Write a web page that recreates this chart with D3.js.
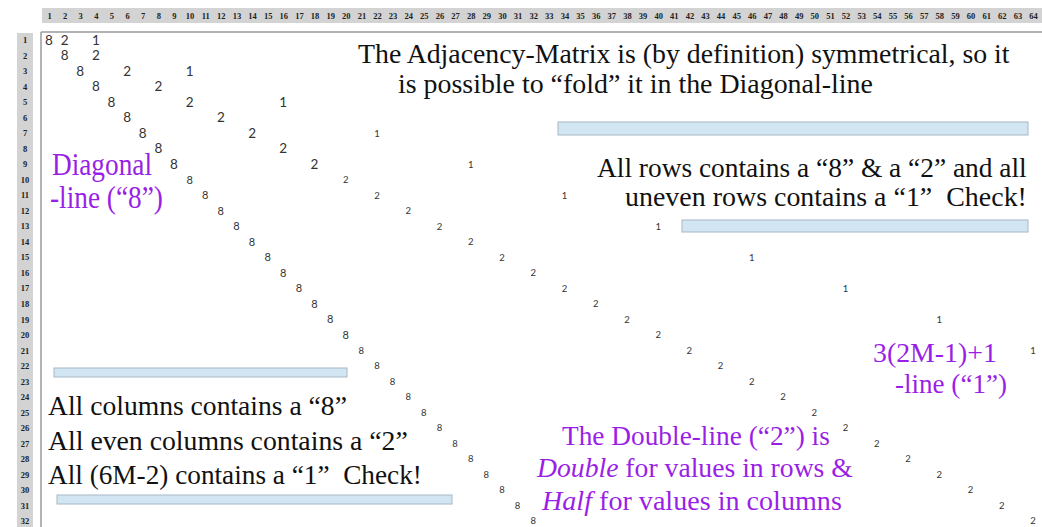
<!DOCTYPE html>
<html>
<head>
<meta charset="utf-8">
<script src="https://cdn.jsdelivr.net/npm/d3@7"></script>
<style>
  body { margin: 0; background: #fff; }
  svg { display: block; }
</style>
</head>
<body>
<div id="viz-container"></div>
<script>
// header labels
const colLabels = [1,2,3,4,5,6,7,8,9,10,11,12,13,14,15,16,17,18,19,20,21,22,23,24,25,26,27,28,29,30,31,32,
                   33,34,35,36,37,38,39,40,41,42,43,44,45,46,47,48,49,50,51,52,53,54,55,56,57,58,59,60,61,62,63,64];
const rowLabels = [1,2,3,4,5,6,7,8,9,10,11,12,13,14,15,16,17,18,19,20,21,22,23,24,25,26,27,28,29,30,31,32];

// for every row: the column that holds the "8", the "2" and the "1"
const eightCols = [1,2,3,4,5,6,7,8,9,10,11,12,13,14,15,16,17,18,19,20,21,22,23,24,25,26,27,28,29,30,31,32];
const twoCols   = [2,4,6,8,10,12,14,16,18,20,22,24,26,28,30,32,34,36,38,40,42,44,46,48,50,52,54,56,58,60,62,64];
const oneCols   = [4,null,10,null,16,null,22,null,28,null,34,null,40,null,46,null,52,null,58,null,64,
                   null,null,null,null,null,null,null,null,null,null,null];

const serif = "Liberation Serif";
const purple = "#9a1fe6";

let viz = d3.select("#viz-container")
              .append("svg")
                  .attr("id", "viz")
                  .attr("width", 1042)
                  .attr("height", 527)
                  .style("background-color", "white")
;

let x = d3.scaleLinear().domain([1, 64]).range([49, 1033]);
let y = d3.scaleLinear().domain([1, 32]).range([40, 521]);

// grey header bands
viz.append("rect").attr("x", 42).attr("y", 8).attr("width", 1000).attr("height", 15).attr("fill", "#d3d3d3");
viz.append("rect").attr("x", 17).attr("y", 33).attr("width", 16).attr("height", 494).attr("fill", "#d3d3d3");

// matrix border
viz.append("line").attr("x1", 41).attr("x2", 1042).attr("y1", 32).attr("y2", 32)
    .attr("stroke", "#9a9a9a").attr("stroke-width", 1.5);
viz.append("line").attr("x1", 41).attr("x2", 41).attr("y1", 32).attr("y2", 527)
    .attr("stroke", "#9a9a9a").attr("stroke-width", 1.5);

// column header axis
let topAxis = viz.append("g")
    .attr("transform", "translate(0,16)")
    .call(d3.axisTop(x).tickValues(colLabels).tickSize(0).tickPadding(0).tickFormat(d3.format("d")));
topAxis.select(".domain").remove();
topAxis.selectAll("text")
    .attr("dy", "0.35em")
    .style("font-family", serif).style("font-weight", "bold").style("font-size", "8.5px").attr("fill", "#222");

// row header axis
let leftAxis = viz.append("g")
    .attr("transform", "translate(25,0)")
    .call(d3.axisLeft(y).tickValues(rowLabels).tickSize(0).tickPadding(0).tickFormat(d3.format("d")));
leftAxis.select(".domain").remove();
leftAxis.selectAll("text")
    .attr("text-anchor", "middle")
    .style("font-family", serif).style("font-weight", "bold").style("font-size", "8.5px").attr("fill", "#222");

// cell values
let cells = [];
rowLabels.forEach(function(r, i){
    cells.push({row: r, col: eightCols[i], v: 8});
    cells.push({row: r, col: twoCols[i], v: 2});
    if (oneCols[i] != null) cells.push({row: r, col: oneCols[i], v: 1});
});

function cellSize(d){
    if (d.row <= 9 && d.col <= 20) return 13.5;
    if (d.v == 8 && d.row <= 20) return 11;
    return 9.5;
}

viz.selectAll(".cell").data(cells).enter().append("text")
    .attr("class", "cell")
    .attr("x", d => x(d.col))
    .attr("y", d => y(d.row))
    .attr("dy", "0.36em")
    .attr("text-anchor", "middle")
    .style("font-family", "Lato, 'Open Sans', sans-serif")
    .style("font-size", d => cellSize(d) + "px")
    .attr("fill", "#333")
    .text(d => d.v)
;

// light blue separator bars
function bar(x0, x1, y0, y1){
    viz.append("rect").attr("x", x0).attr("y", y0).attr("width", x1 - x0).attr("height", y1 - y0)
        .attr("fill", "#d2e5f2").attr("stroke", "#a8b8c6").attr("stroke-width", 1);
}
bar(558, 1028, 122, 135);
bar(682, 1028, 220, 232);
bar(54, 347, 368, 377);
bar(57, 452, 495, 504);

// annotation line, squeezed to the width it has in the picture
function note(parts, x0, x1, baseline, size, color){
    let t = viz.append("text")
        .style("font-family", serif)
        .style("font-size", size + "px")
        .style("white-space", "pre")
        .attr("fill", color);
    parts.forEach(function(p){
        t.append("tspan").style("font-style", p[1] ? "italic" : "normal").text(p[0]);
    });
    let w = t.node().getComputedTextLength();
    t.attr("transform", "translate(" + x0 + "," + baseline + ") scale(" + ((x1 - x0) / w) + ",1)");
}

note([["The Adjacency-Matrix is (by definition) symmetrical, so it"]], 358, 1010, 63, 28, "#111");
note([["is possible to \u201cfold\u201d it in the Diagonal-line"]], 398, 873, 93, 28, "#111");

note([["All rows contains a \u201c8\u201d & a \u201c2\u201d and all"]], 597, 1027, 177, 28, "#111");
note([["uneven rows contains a \u201c1\u201d  Check!"]], 625, 1027, 206, 28, "#111");

note([["Diagonal"]], 52, 152, 175, 31, purple);
note([["-line (\u201c8\u201d)"]], 50, 163, 208, 31, purple);

note([["All columns contains a \u201c8\u201d"]], 48, 347, 415, 28, "#111");
note([["All even columns contains a \u201c2\u201d"]], 48, 408, 450, 28, "#111");
note([["All (6M-2) contains a \u201c1\u201d  Check!"]], 48, 422, 484, 28, "#111");

note([["The Double-line (\u201c2\u201d) is"]], 562, 830, 445, 28, purple);
note([["Double", true], [" for values in rows &"]], 537, 853, 477, 28, purple);
note([["Half", true], [" for values in columns"]], 542, 842, 510, 28, purple);

note([["3(2M-1)+1"]], 873, 997, 362, 28, purple);
note([["-line (\u201c1\u201d)"]], 895, 1007, 393, 28, purple);
</script>
</body>
</html>
